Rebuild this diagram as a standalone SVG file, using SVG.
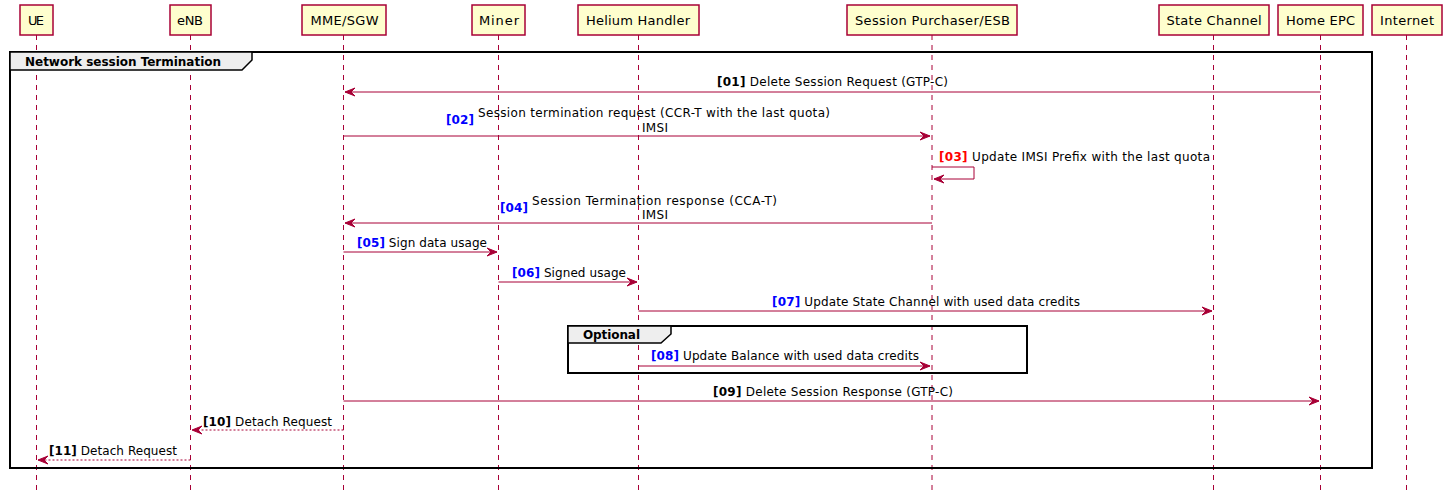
<svg xmlns="http://www.w3.org/2000/svg" width="1445" height="491" viewBox="0 0 1445 491">
<style>
text{font-family:"DejaVu Sans","Liberation Sans",Arial,sans-serif;font-size:12px;fill:#000}
.pt{font-size:13px;text-anchor:middle}
.pbox{fill:#FEFECE;stroke:#A80036;stroke-width:1.5}
.life{stroke:#A80036;stroke-width:1;stroke-dasharray:5,5;fill:none}
.msg{stroke:#A80036;stroke-width:1;fill:none}
.dot{stroke:#A80036;stroke-width:1;stroke-dasharray:2,2;fill:none}
.ah{fill:#A80036;stroke:#A80036;stroke-width:1}
.frame{fill:none;stroke:#000;stroke-width:2}
.tab{fill:#EEEEEE;stroke:#000;stroke-width:1.5}
.b{font-weight:bold}
.blue{fill:#0000FF;font-weight:bold}
.red{fill:#FF0000;font-weight:bold}
.mid{text-anchor:middle}
</style>
<g id="lifelines">
<line class="life" x1="36.5" y1="35" x2="36.5" y2="491"/>
<line class="life" x1="190.5" y1="35" x2="190.5" y2="491"/>
<line class="life" x1="343.5" y1="35" x2="343.5" y2="491"/>
<line class="life" x1="498.5" y1="35" x2="498.5" y2="491"/>
<line class="life" x1="638.5" y1="35" x2="638.5" y2="491"/>
<line class="life" x1="932" y1="35" x2="932" y2="491"/>
<line class="life" x1="1213.5" y1="35" x2="1213.5" y2="491"/>
<line class="life" x1="1320.5" y1="35" x2="1320.5" y2="491"/>
<line class="life" x1="1406.5" y1="35" x2="1406.5" y2="491"/>
</g>
<g id="UE"><rect class="pbox" x="20" y="5" width="33" height="30"/><text class="pt" x="36" y="25" textLength="16" lengthAdjust="spacing">UE</text></g>
<g id="eNB"><rect class="pbox" x="170" y="5" width="41" height="30"/><text class="pt" x="190" y="25" textLength="26" lengthAdjust="spacing">eNB</text></g>
<g id="MME_SGW"><rect class="pbox" x="302" y="5" width="84" height="30"/><text class="pt" x="344.5" y="25" textLength="68" lengthAdjust="spacing">MME/SGW</text></g>
<g id="Miner"><rect class="pbox" x="472" y="5" width="53" height="30"/><text class="pt" x="499" y="25" textLength="40" lengthAdjust="spacing">Miner</text></g>
<g id="Helium_Handler"><rect class="pbox" x="578" y="5" width="121" height="30"/><text class="pt" x="638" y="25" textLength="104" lengthAdjust="spacing">Helium Handler</text></g>
<g id="Session_Purchaser_ESB"><rect class="pbox" x="847" y="5" width="170" height="30"/><text class="pt" x="932.5" y="25" textLength="155" lengthAdjust="spacing">Session Purchaser/ESB</text></g>
<g id="State_Channel"><rect class="pbox" x="1159" y="5" width="110" height="30"/><text class="pt" x="1214" y="25" textLength="95" lengthAdjust="spacing">State Channel</text></g>
<g id="Home_EPC"><rect class="pbox" x="1278" y="5" width="85" height="30"/><text class="pt" x="1320.5" y="25" textLength="69" lengthAdjust="spacing">Home EPC</text></g>
<g id="Internet"><rect class="pbox" x="1372" y="5" width="70" height="30"/><text class="pt" x="1407" y="25" textLength="54" lengthAdjust="spacing">Internet</text></g>
<g id="group_network_session_termination">
<rect class="frame" x="10" y="52" width="1362" height="416"/>
<polygon class="tab" points="10,52 252,52 252,60 242,70 10,70"/>
<text class="b" x="25" y="66" textLength="196" lengthAdjust="spacing">Network session Termination</text>
</g>
<g id="group_optional">
<rect class="frame" x="568" y="326" width="459" height="47"/>
<polygon class="tab" points="568,326 671,326 671,334 661,343 568,343"/>
<text class="b" x="583" y="339" textLength="57" lengthAdjust="spacing">Optional</text>
</g>
<g id="connectors">
<line class="msg" x1="1320.5" y1="92" x2="345" y2="92"/>
<polygon class="ah" points="355,88 345,92 355,96 351,92"/>
<text x="717" y="86" textLength="231" lengthAdjust="spacing"><tspan class="b">[01]</tspan> Delete Session Request (GTP-C)</text>

<line class="msg" x1="343.5" y1="136" x2="930" y2="136"/>
<polygon class="ah" points="920,132 930,136 920,140 924,136"/>
<text class="blue" x="446" y="124" textLength="28" lengthAdjust="spacing">[02]</text>
<text x="478" y="117" textLength="352" lengthAdjust="spacing">Session termination request (CCR-T with the last quota)</text>
<text class="mid" x="655" y="132" textLength="26" lengthAdjust="spacing">IMSI</text>

<polyline class="msg" points="932,167 974,167 974,179 934,179"/>
<polygon class="ah" points="944,175 934,179 944,183 940,179"/>
<text x="939" y="161" textLength="271" lengthAdjust="spacing"><tspan class="red">[03]</tspan> Update IMSI Prefix with the last quota</text>

<line class="msg" x1="932" y1="223" x2="345" y2="223"/>
<polygon class="ah" points="355,219 345,223 355,227 351,223"/>
<text class="blue" x="500" y="212" textLength="28" lengthAdjust="spacing">[04]</text>
<text x="532" y="205" textLength="245" lengthAdjust="spacing">Session Termination response (CCA-T)</text>
<text class="mid" x="655" y="219" textLength="26" lengthAdjust="spacing">IMSI</text>

<line class="msg" x1="343.5" y1="252" x2="497" y2="252"/>
<polygon class="ah" points="487,248 497,252 487,256 491,252"/>
<text x="357" y="247" textLength="130" lengthAdjust="spacing"><tspan class="blue">[05]</tspan> Sign data usage</text>

<line class="msg" x1="498.5" y1="282" x2="637" y2="282"/>
<polygon class="ah" points="627,278 637,282 627,286 631,282"/>
<text x="512" y="277" textLength="114" lengthAdjust="spacing"><tspan class="blue">[06]</tspan> Signed usage</text>

<line class="msg" x1="638.5" y1="311" x2="1212" y2="311"/>
<polygon class="ah" points="1202,307 1212,311 1202,315 1206,311"/>
<text x="772" y="306" textLength="308" lengthAdjust="spacing"><tspan class="blue">[07]</tspan> Update State Channel with used data credits</text>

<line class="msg" x1="638.5" y1="366" x2="930" y2="366"/>
<polygon class="ah" points="920,362 930,366 920,370 924,366"/>
<text x="651" y="360" textLength="268" lengthAdjust="spacing"><tspan class="blue">[08]</tspan> Update Balance with used data credits</text>

<line class="msg" x1="343.5" y1="401" x2="1319" y2="401"/>
<polygon class="ah" points="1309,397 1319,401 1309,405 1313,401"/>
<text x="713" y="396" textLength="240" lengthAdjust="spacing"><tspan class="b">[09]</tspan> Delete Session Response (GTP-C)</text>

<line class="dot" x1="343.5" y1="430" x2="192" y2="430"/>
<polygon class="ah" points="202,426 192,430 202,434 198,430"/>
<text x="203" y="426" textLength="129" lengthAdjust="spacing"><tspan class="b">[10]</tspan> Detach Request</text>

<line class="dot" x1="190.5" y1="460" x2="38" y2="460"/>
<polygon class="ah" points="48,456 38,460 48,464 44,460"/>
<text x="49" y="455" textLength="128" lengthAdjust="spacing"><tspan class="b">[11]</tspan> Detach Request</text>
</g>
</svg>
